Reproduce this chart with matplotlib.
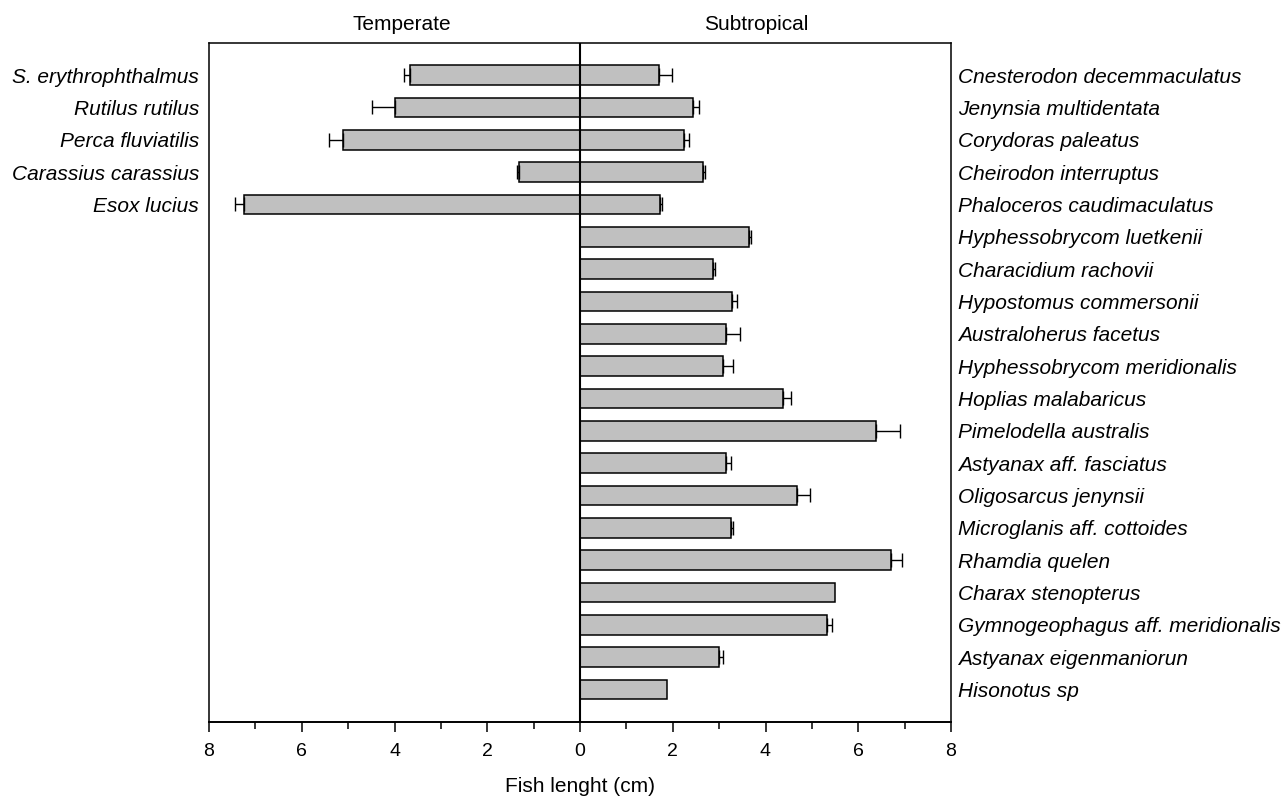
import numpy as np
import matplotlib
matplotlib.use("Agg")
import matplotlib.pyplot as plt
import matplotlib.transforms as mtransforms

plt.rcParams['font.family'] = ['Liberation Sans', 'DejaVu Sans']

# temperate species (left side, drawn as negative)
temp_species = ['S. erythrophthalmus', 'Rutilus rutilus', 'Perca fluviatilis',
                'Carassius carassius', 'Esox lucius']
temp_len = [3.67, 4.00, 5.12, 1.32, 7.24]
temp_err = [0.12, 0.49, 0.29, 0.03, 0.19]

# subtropical species (right side)
sub_species = ['Cnesterodon decemmaculatus', 'Jenynsia multidentata', 'Corydoras paleatus',
               'Cheirodon interruptus', 'Phaloceros caudimaculatus', 'Hyphessobrycom luetkenii',
               'Characidium rachovii', 'Hypostomus commersonii', 'Australoherus facetus',
               'Hyphessobrycom meridionalis', 'Hoplias malabaricus', 'Pimelodella australis',
               'Astyanax aff. fasciatus', 'Oligosarcus jenynsii', 'Microglanis aff. cottoides',
               'Rhamdia quelen', 'Charax stenopterus', 'Gymnogeophagus aff. meridionalis',
               'Astyanax eigenmaniorun', 'Hisonotus sp']
sub_len = [1.71, 2.43, 2.25, 2.65, 1.73, 3.65, 2.86, 3.27, 3.14, 3.09,
           4.37, 6.38, 3.15, 4.68, 3.26, 6.70, 5.49, 5.32, 2.99, 1.88]
sub_err = [0.28, 0.14, 0.11, 0.05, 0.03, 0.04, 0.05, 0.12, 0.32, 0.20,
           0.17, 0.51, 0.10, 0.27, 0.04, 0.24, 0.0, 0.12, 0.10, 0.0]

fig = plt.figure(figsize=(12.88, 7.96), dpi=100)
ax = fig.add_axes([209/1288, 1 - 721.7/796, 742/1288, 679/796])

y_temp = np.arange(len(temp_species))
y_sub = np.arange(len(sub_species))
bar_kw = dict(height=0.61, color='#c0c0c0', edgecolor='black', linewidth=1.1, zorder=2)
err_kw = dict(fmt='none', ecolor='black', elinewidth=1.0, capsize=4.7, capthick=1.0, zorder=3)

neg = -np.array(temp_len)
ax.barh(y_temp, neg, **bar_kw)
ax.errorbar(neg, y_temp, xerr=[temp_err, np.zeros(len(temp_err))], **err_kw)

ax.barh(y_sub, sub_len, **bar_kw)
has_err = np.array(sub_err) > 0
ax.errorbar(np.array(sub_len)[has_err], y_sub[has_err],
            xerr=[np.zeros(has_err.sum()), np.array(sub_err)[has_err]], **err_kw)

ax.axvline(0, color='black', linewidth=1.5, zorder=4)

ax.set_xlim(-8, 8)
ax.set_ylim(20, -1)
ax.set_yticks([])
ax.set_xticks(np.arange(-8, 9, 2))
ax.set_xticklabels([str(abs(v)) for v in range(-8, 9, 2)], fontsize=14)
ax.set_xticks(np.arange(-7, 8, 2), minor=True)
ax.tick_params(axis='x', which='major', direction='out', length=7.5, width=1.1, pad=8)
ax.tick_params(axis='x', which='minor', direction='out', length=5, width=1.1)
for sp in ax.spines.values():
    sp.set_linewidth(1.1)
ax.spines['bottom'].set_linewidth(1.4)

trans = mtransforms.blended_transform_factory(ax.transAxes, ax.transData)
for yy, name in zip(y_temp, temp_species):
    ax.text(-10/742, yy, name, transform=trans, ha='right', va='center_baseline',
            fontsize=15, style='italic')
for yy, name in zip(y_sub, sub_species):
    ax.text(1 + 7/742, yy, name, transform=trans, ha='left', va='center_baseline',
            fontsize=15, style='italic')

fig.text(402/1288, 1 - 30/796, 'Temperate', ha='center', va='baseline', fontsize=15)
fig.text(756/1288, 1 - 30/796, 'Subtropical', ha='center', va='baseline', fontsize=15)
fig.text(580/1288, 4/796, 'Fish lenght (cm)', ha='center', va='baseline', fontsize=15)

fig.savefig('out.png', dpi=100)
